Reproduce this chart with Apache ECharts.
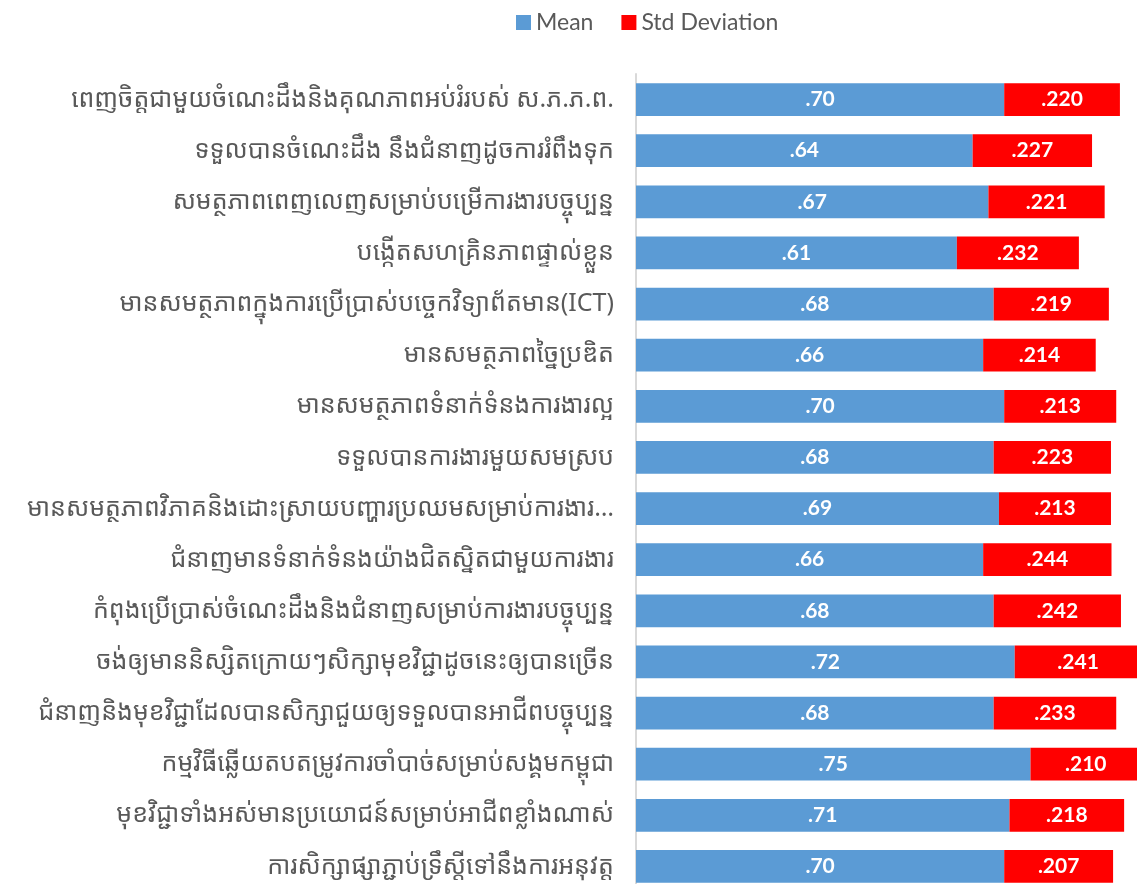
<!DOCTYPE html>
<html>
<head>
<meta charset="utf-8">
<title>Mean / Std Deviation</title>
<script src="https://cdn.jsdelivr.net/npm/echarts@6/dist/echarts.min.js"></script>
<style>
  html, body { margin: 0; padding: 0; background: #fff; }
  #main { width: 1137px; height: 884px; }
</style>
</head>
<body>
<div id="main"></div>
<script>
// categories, top to bottom
const categories = [
  'ពេញចិត្តជាមួយចំណេះដឹងនិងគុណភាពអប់រំរបស់ ស.ភ.ភ.ព.',
  'ទទួលបានចំណេះដឹង នឹងជំនាញដូចការរំពឹងទុក',
  'សមត្ថភាពពេញលេញសម្រាប់បម្រើការងារបច្ចុប្បន្ន',
  'បង្កើតសហគ្រិនភាពផ្ទាល់ខ្លួន',
  'មានសមត្ថភាពក្នុងការប្រើប្រាស់បច្ចេកវិទ្យាព័តមាន(ICT)',
  'មានសមត្ថភាពច្នៃប្រឌិត',
  'មានសមត្ថភាពទំនាក់ទំនងការងារល្អ',
  'ទទួលបានការងារមួយសមស្រប',
  'មានសមត្ថភាពវិភាគនិងដោះស្រាយបញ្ហារប្រឈមសម្រាប់ការងារ…',
  'ជំនាញមានទំនាក់ទំនងយ៉ាងជិតស្និតជាមួយការងារ',
  'កំពុងប្រើប្រាស់ចំណេះដឹងនិងជំនាញសម្រាប់ការងារបច្ចុប្បន្ន',
  'ចង់ឲ្យមាននិស្សិតក្រោយៗសិក្សាមុខវិជ្ជាដូចនេះឲ្យបានច្រើន',
  'ជំនាញនិងមុខវិជ្ជាដែលបានសិក្សាជួយឲ្យទទួលបានអាជីពបច្ចុប្បន្ន',
  'កម្មវិធីឆ្លើយតបតម្រូវការចាំបាច់សម្រាប់សង្គមកម្ពុជា',
  'មុខវិជ្ជាទាំងអស់មានប្រយោជន៍សម្រាប់អាជីពខ្លាំងណាស់',
  'ការសិក្សាផ្សាភ្ជាប់ទ្រឹស្តីទៅនឹងការអនុវត្ត'
]

const meanValues = [0.70, 0.64, 0.67, 0.61, 0.68, 0.66, 0.70, 0.68, 0.69, 0.66, 0.68, 0.72, 0.68, 0.75, 0.71, 0.70]
const stdValues = [0.220, 0.227, 0.221, 0.232, 0.219, 0.214, 0.213, 0.223, 0.213, 0.244, 0.242, 0.241, 0.233, 0.210, 0.218, 0.207]

const labelFont = 'Lato, "Open Sans", "Liberation Sans", sans-serif'
const khmerFont = '"Noto Sans Khmer", "Khmer OS", "Noto Sans", sans-serif'

// excel style: drop the leading zero
function noZero(v, digits) {
  return v.toFixed(digits).replace(/^0/, '')
}

const chart = echarts.init(document.getElementById('main'))

const option = {
  animation: false,
  legend: {
    top: 6,
    left: 511,
    itemWidth: 15,
    itemHeight: 15,
    itemGap: 28,
    icon: 'rect',
    textStyle: {
      fontFamily: labelFont,
      fontSize: 23,
      color: '#595959'
    },
    data: ['Mean', 'Std Deviation']
  },
  grid: {
    left: 636,
    top: 74,
    width: 526,
    height: 818,
    outerBoundsMode: 'none',
    containLabel: false
  },
  xAxis: {
    type: 'value',
    min: 0,
    max: 1,
    show: false
  },
  yAxis: {
    type: 'category',
    inverse: true,
    data: categories,
    axisLine: {
      lineStyle: { color: '#d9d9d9', width: 2 }
    },
    axisTick: { show: false },
    axisLabel: {
      margin: 22,
      fontFamily: khmerFont,
      fontSize: 25,
      color: '#595959'
    }
  },
  series: [
    {
      name: 'Mean',
      type: 'bar',
      stack: 'total',
      barCategoryGap: '36%',
      data: meanValues,
      itemStyle: { color: '#5b9bd5' },
      label: {
        show: true,
        position: 'inside',
        color: '#ffffff',
        fontFamily: labelFont,
        fontWeight: 'bold',
        fontSize: 21,
        formatter: p => noZero(p.value, 2)
      }
    },
    {
      name: 'Std Deviation',
      type: 'bar',
      stack: 'total',
      barCategoryGap: '36%',
      data: stdValues,
      itemStyle: { color: '#ff0000' },
      label: {
        show: true,
        position: 'inside',
        color: '#ffffff',
        fontFamily: labelFont,
        fontWeight: 'bold',
        fontSize: 21,
        formatter: p => noZero(p.value, 3)
      }
    }
  ]
}

chart.setOption(option)
</script>
</body>
</html>
